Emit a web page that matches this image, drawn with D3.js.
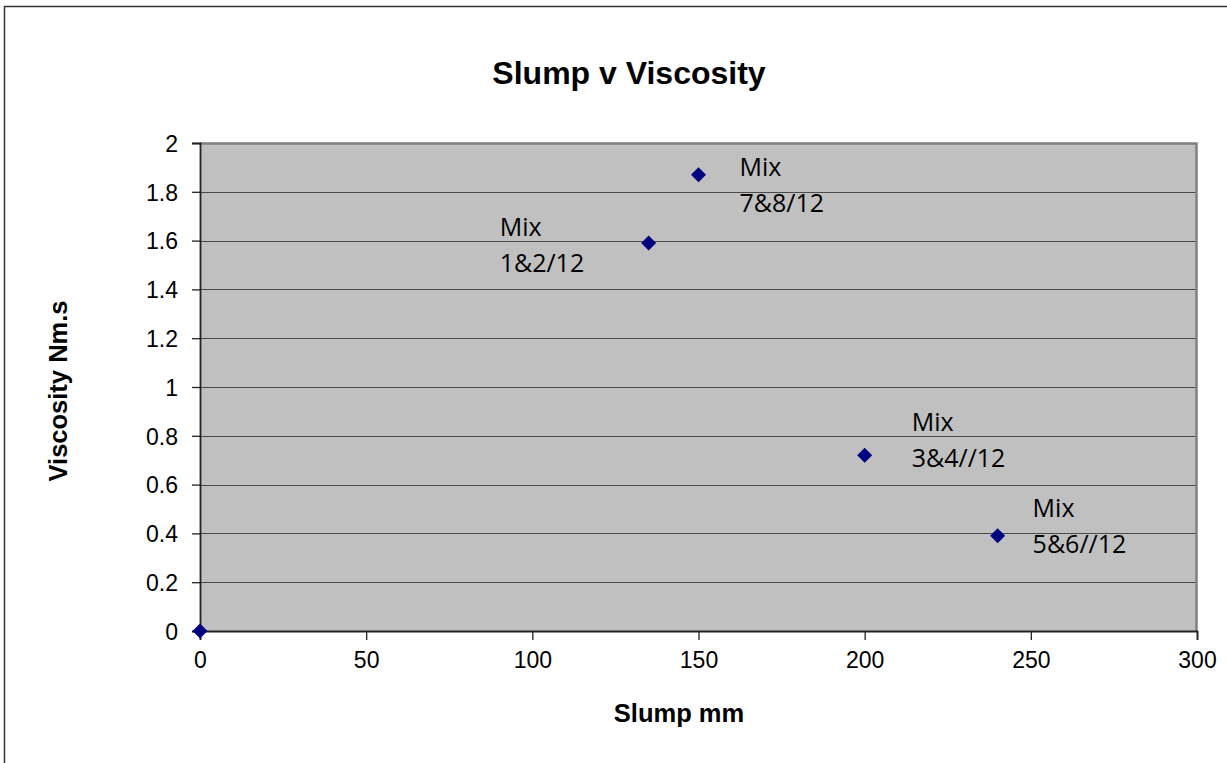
<!DOCTYPE html>
<html>
<head>
<meta charset="utf-8">
<script src="https://cdn.jsdelivr.net/npm/d3@7"></script>
<style>
  html, body { margin: 0; padding: 0; background: #fff; }
  svg { display: block; }
</style>
</head>
<body>
<svg id="chart" width="1227" height="763"></svg>
<script>
// ---- data ----
const slump = [0, 135, 150, 200, 240];
const viscosity = [0, 1.59, 1.87, 0.72, 0.39];
const pointLabels = ["", "Mix\n1&2/12", "Mix\n7&8/12", "Mix\n3&4//12", "Mix\n5&6//12"];
const xTicks = [0, 50, 100, 150, 200, 250, 300];
const yTicks = [0, 0.2, 0.4, 0.6, 0.8, 1, 1.2, 1.4, 1.6, 1.8, 2];
const title = "Slump v Viscosity";
const xTitle = "Slump mm";
const yTitle = "Viscosity Nm.s";
// label placement offsets (dx, dy of first line baseline, relative to point)
const labelOffsets = [[0, 0], [-149, -7], [41, 1], [47, -24], [35, -19]];

const svg = d3.select("#chart");
const W = 1227, H = 763;
const plot = { left: 200, top: 143, right: 1197, bottom: 631 };
const sans = "'Liberation Sans', Arial, sans-serif";

// outer chart border
svg.append("rect")
  .attr("x", 4.5).attr("y", 6.5)
  .attr("width", W + 10).attr("height", H + 10)
  .attr("fill", "#fff").attr("stroke", "#333").attr("stroke-width", 1.5);

const x = d3.scaleLinear().domain([0, 300]).range([plot.left, plot.right]);
const y = d3.scaleLinear().domain([0, 2]).range([plot.bottom, plot.top]);

// plot background
svg.append("rect")
  .attr("x", plot.left).attr("y", plot.top)
  .attr("width", plot.right - plot.left).attr("height", plot.bottom - plot.top)
  .attr("fill", "#c0c0c0");

// gridlines
svg.append("g").selectAll("line")
  .data(yTicks.filter(d => d > 0 && d < 2))
  .join("line")
  .attr("x1", plot.left).attr("x2", plot.right)
  .attr("y1", d => Math.round(y(d)) + 0.5).attr("y2", d => Math.round(y(d)) + 0.5)
  .attr("stroke", "#4a4a4a").attr("stroke-width", 1.2);

// plot border top & right (gray)
svg.append("path")
  .attr("d", `M${plot.left},${plot.top + 0.5}H${plot.right - 0.5}V${plot.bottom}`)
  .attr("fill", "none").attr("stroke", "#808080").attr("stroke-width", 2.5);

// axes
const xAxis = d3.axisBottom(x).tickValues(xTicks).tickSize(9).tickPadding(12)
  .tickFormat(d => String(d));
const yAxis = d3.axisLeft(y).tickValues(yTicks).tickSize(8).tickPadding(14)
  .tickFormat(d => String(d));

const gx = svg.append("g").attr("transform", `translate(0,${plot.bottom})`).call(xAxis);
const gy = svg.append("g").attr("transform", `translate(${plot.left},0)`).call(yAxis);
[gx, gy].forEach(g => {
  g.select(".domain").attr("stroke", "#222").attr("stroke-width", 1.8);
  g.selectAll(".tick line").attr("stroke", "#222").attr("stroke-width", 1.3);
  g.selectAll(".tick text")
    .attr("fill", "#000")
    .style("font-family", sans)
    .style("font-size", "23px");
});
gy.selectAll(".tick text").attr("dy", "0.36em");

// title
svg.append("text")
  .attr("x", 629).attr("y", 84)
  .attr("text-anchor", "middle")
  .style("font-family", sans)
  .style("font-size", "32px").style("font-weight", "bold")
  .text(title);

// axis titles
svg.append("text")
  .attr("x", 679).attr("y", 722)
  .attr("text-anchor", "middle")
  .style("font-family", sans)
  .style("font-size", "25.5px").style("font-weight", "bold")
  .text(xTitle);

svg.append("text")
  .attr("transform", `translate(67,391) rotate(-90)`)
  .attr("text-anchor", "middle")
  .style("font-family", sans)
  .style("font-size", "25.5px").style("font-weight", "bold")
  .text(yTitle);

// points
const pts = slump.map((s, i) => ({ x: s, y: viscosity[i], label: pointLabels[i], off: labelOffsets[i] }));
const r = 7.5;
svg.append("g").selectAll("path")
  .data(pts)
  .join("path")
  .attr("d", d => {
    const cx = x(d.x), cy = y(d.y);
    return `M${cx},${cy - r}L${cx + r},${cy}L${cx},${cy + r}L${cx - r},${cy}Z`;
  })
  .attr("fill", "#000080");

// data labels
const lbl = svg.append("g").selectAll("text")
  .data(pts.filter(d => d.label))
  .join("text")
  .attr("x", d => x(d.x) + d.off[0])
  .attr("y", d => y(d.y) + d.off[1])
  .style("font-family", "'Open Sans', 'Noto Sans', sans-serif")
  .style("font-size", "25px")
  .attr("fill", "#000");
lbl.each(function(d) {
  const t = d3.select(this);
  d.label.split("\n").forEach((line, i) => {
    t.append("tspan")
      .attr("x", x(d.x) + d.off[0])
      .attr("dy", i === 0 ? 0 : 36)
      .text(line);
  });
});
</script>
</body>
</html>
